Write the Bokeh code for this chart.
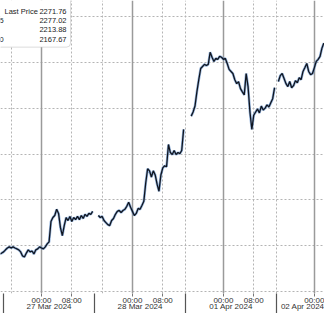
import numpy as np
from bokeh.plotting import figure
from bokeh.models import Range1d, FixedTicker, LinearAxis, Grid, BoxAnnotation, Label
from bokeh.embed import file_html
from bokeh.resources import INLINE

# ---------------- data (gold spot, half-hour points, trading-time axis in hours from 27 Mar 00:00)
step = 0.5
sess_a_start = -11.0
sess_a = [2176.4, 2176.8, 2177.3, 2178.2, 2179.0, 2179.5, 2179.0, 2179.5, 2179.0, 2178.6,
          2178.2, 2177.3, 2175.5, 2175.1, 2176.8, 2178.2, 2177.3, 2177.7, 2176.4, 2178.2,
          2178.6, 2179.5, 2179.0, 2178.6, 2179.5, 2180.8, 2181.7, 2190.6, 2192.3, 2193.2,
          2195.9, 2194.1, 2187.9, 2184.4, 2188.8, 2192.3, 2191.0, 2192.8, 2190.6, 2192.3,
          2191.4, 2192.8, 2191.4, 2193.2, 2191.9, 2193.7, 2192.8, 2194.1, 2193.7, 2195.0]
sess_b_start = 15.0
sess_b = [2193.2, 2192.3, 2192.8, 2191.0, 2190.1, 2189.2, 2188.8, 2191.0, 2191.9, 2193.7,
          2195.0, 2195.4, 2194.5, 2195.4, 2195.9, 2197.2, 2199.0, 2196.8, 2195.0, 2193.2,
          2194.1, 2196.3, 2195.9, 2197.6, 2199.4, 2207.4, 2213.6, 2212.7, 2210.0, 2212.7,
          2210.9, 2206.9, 2203.8, 2210.9, 2214.0, 2214.9, 2214.5, 2224.2, 2220.7, 2219.8,
          2221.6, 2219.8, 2220.7, 2220.2, 2221.6, 2230.8]
sess_c_start = 39.5
sess_c = [2236.6, 2238.4, 2241.0, 2247.2, 2252.5, 2257.4, 2258.3, 2259.2, 2258.7, 2259.2,
          2264.5, 2262.3, 2260.5, 2261.8, 2261.4, 2262.7, 2262.3, 2261.4, 2261.8, 2259.6,
          2257.0, 2256.1, 2255.2, 2252.5, 2250.8, 2251.6, 2248.6, 2247.2, 2245.9, 2255.2,
          2249.5, 2238.4, 2230.8, 2237.0, 2238.4, 2239.7, 2238.0, 2241.0, 2239.3, 2240.1,
          2241.5, 2240.6, 2242.4, 2244.2, 2249.0]
sess_d_start = 62.5
sess_d = [2251.7, 2254.3, 2255.2, 2253.0, 2250.8, 2249.5, 2251.7, 2249.0, 2249.9, 2252.1,
          2251.2, 2253.4, 2252.5, 2256.1, 2257.8, 2259.6, 2256.1, 2254.7, 2255.2, 2257.8,
          2260.5, 2261.4, 2262.7, 2266.3, 2268.5]

time_ticks = [0, 8, 24, 32, 48, 56, 72]
time_labels = ["00:00", "08:00", "00:00", "08:00", "00:00", "08:00", "00:00"]
day_centers = [2, 26, 50, 74]
day_labels = ["27 Mar 2024", "28 Mar 2024", "01 Apr 2024", "02 Apr 2024"]
day_breaks = [-10, 14, 38, 62]
dotted_vgrid = [-8, 8, 16, 32, 38, 56, 62]
solid_vgrid = [0, 24, 48, 72]
price_grid = [2160, 2180, 2200, 2220, 2240, 2260, 2280]
legend_names = ["Last Price", "5", "", "0"]
legend_values = ["2271.76", "2277.02", "2213.88", "2167.67"]

# ---------------- layout helpers
W, H = 324, 313
ORIGIN_PX = 41.0
PX_PER_H = 3.79
Y_TOP = 2287.1
PRICE_PER_PX = 0.4428
FRAME_H = 289

def px2x(px):
    return (px - ORIGIN_PX) / PX_PER_H

def px2y(py):
    return Y_TOP - py * PRICE_PER_PX

x0 = px2x(0)
x1 = px2x(W)
ybot = Y_TOP - FRAME_H * PRICE_PER_PX

xs, ys = [], []
for start, vals in [(sess_a_start, sess_a), (sess_b_start, sess_b),
                    (sess_c_start, sess_c), (sess_d_start, sess_d)]:
    xs += list(start + step * np.arange(len(vals))) + [np.nan]
    ys += list(vals) + [np.nan]

p = figure(width=W, height=H, x_range=Range1d(x0, x1), y_range=Range1d(ybot, Y_TOP),
           output_backend="svg", toolbar_location=None, min_border=0,
           x_axis_type=None, y_axis_type=None)
p.outline_line_color = None
p.background_fill_color = "white"
p.border_fill_color = "white"

FONT = "Liberation Sans"

# grids
p.add_layout(Grid(dimension=1, ticker=FixedTicker(ticks=price_grid),
                  grid_line_color="#b4b4b4", grid_line_dash="2 2", grid_line_width=1))
p.add_layout(Grid(dimension=0, ticker=FixedTicker(ticks=dotted_vgrid),
                  grid_line_color="#b4b4b4", grid_line_dash="2 2", grid_line_width=1))
p.add_layout(Grid(dimension=0, ticker=FixedTicker(ticks=solid_vgrid),
                  grid_line_color="#9a9a9a", grid_line_width=1.5))

# price line
p.line(xs, ys, line_color="#4f82c4", line_width=2.6, line_alpha=0.6)
p.line(xs, ys, line_color="#10151f", line_width=1.3)

# axes
time_axis = LinearAxis(ticker=FixedTicker(ticks=time_ticks, minor_ticks=day_breaks),
                       major_label_overrides={t: l for t, l in zip(time_ticks, time_labels)})
time_axis.axis_line_color = None
time_axis.major_tick_out = 3
time_axis.major_tick_in = 0
time_axis.major_tick_line_color = "#777777"
time_axis.minor_tick_out = 24
time_axis.minor_tick_in = 0
time_axis.minor_tick_line_color = "#555555"
time_axis.minor_tick_line_width = 1.2
time_axis.major_label_standoff = -22
time_axis.major_label_text_font = FONT
time_axis.major_label_text_font_size = "8px"
time_axis.major_label_text_color = "#333333"

date_axis = LinearAxis(ticker=FixedTicker(ticks=day_centers),
                       major_label_overrides={t: l for t, l in zip(day_centers, day_labels)})
date_axis.axis_line_color = None
date_axis.major_tick_out = 0
date_axis.major_tick_in = 0
date_axis.minor_tick_out = 0
date_axis.minor_tick_in = 0
date_axis.major_label_standoff = -6
date_axis.major_label_text_font = FONT
date_axis.major_label_text_font_size = "8px"
date_axis.major_label_text_color = "#333333"

p.add_layout(time_axis, "below")
p.add_layout(date_axis, "below")

# legend box
p.add_layout(BoxAnnotation(left=px2x(-10), right=px2x(70), top=px2y(-10), bottom=px2y(46),
                           fill_color="white", fill_alpha=1.0, line_color="#8c8c8c",
                           line_width=1, border_radius=4))
row_py = [11, 20, 29, 38]
name_px = [4, -1, -1, -1]
for name, val, py, npx in zip(legend_names, legend_values, row_py, name_px):
    if name:
        p.add_layout(Label(x=px2x(npx), y=px2y(py), text=name, text_font=FONT,
                           text_font_size="7.5px", text_baseline="middle",
                           text_color="#222222"))
    p.add_layout(Label(x=px2x(66), y=px2y(py), text=val, text_font=FONT,
                       text_font_size="7.5px", text_baseline="middle", text_align="right",
                       text_color="#222222"))

open("out.html", "w").write(file_html(p, INLINE))
